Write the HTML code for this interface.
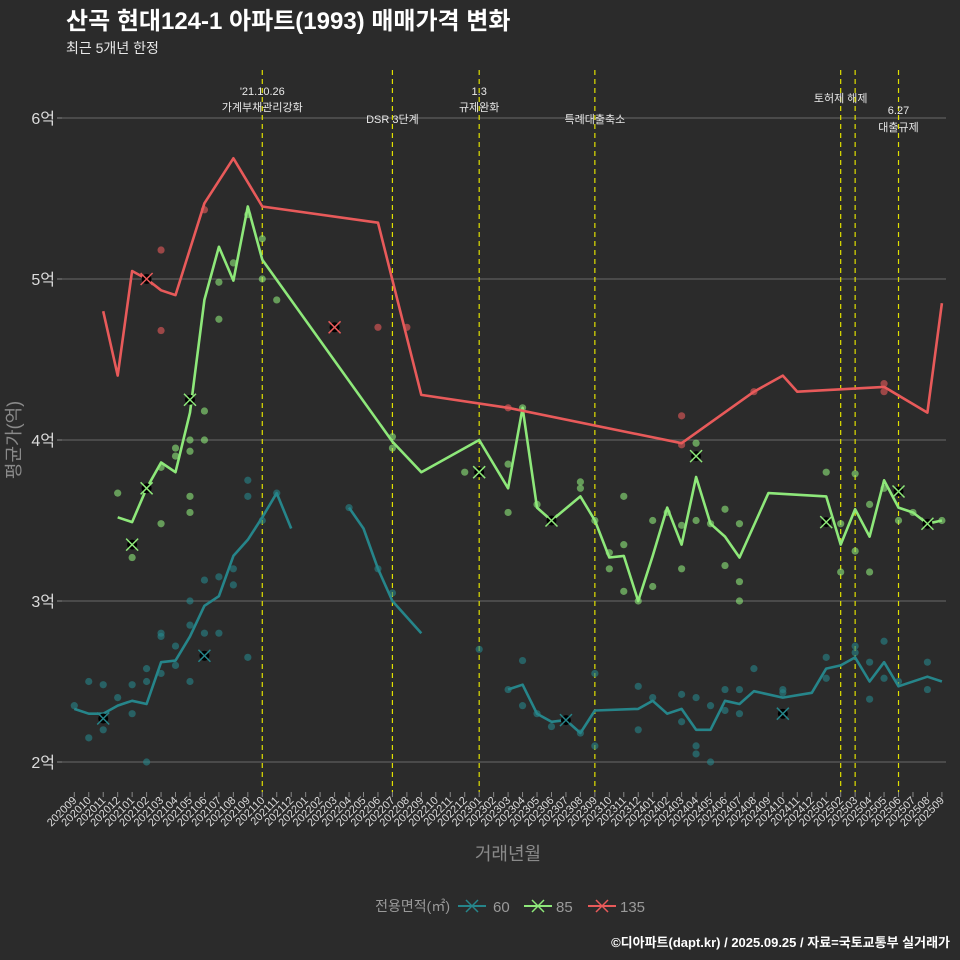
<!DOCTYPE html>
<html><head><meta charset="utf-8">
<style>
html,body{margin:0;padding:0;background:#2b2b2b;}
svg{display:block;font-family:"Liberation Sans","Noto Sans CJK KR",sans-serif;}
</style></head>
<body>
<svg id="chart" width="960" height="960" viewBox="0 0 960 960">
<rect width="960" height="960" fill="#2b2b2b"/>
<text x="66" y="29" font-size="24" font-weight="bold" fill="#ffffff">산곡 현대124-1 아파트(1993) 매매가격 변화</text>
<text x="66" y="53" font-size="14" fill="#e8e8e8">최근 5개년 한정</text>
<g id="grid"></g>
<g id="events"></g>
<g id="series"></g>
<g id="axes"></g>
<text transform="translate(20,440) rotate(-90)" text-anchor="middle" font-size="18" fill="#8a8a8a">평균가(억)</text>
<text x="508" y="860" text-anchor="middle" font-size="18" fill="#8a8a8a">거래년월</text>
<g>
<text x="450" y="911" text-anchor="end" font-size="14" fill="#9a9a9a">전용면적(㎡)</text>
<g><line x1="458" y1="906" x2="486" y2="906" stroke="#26858a" stroke-width="2"/><path d="M466,900l12,12M478,900l-12,12" stroke="#26858a" stroke-width="1.5"/><text x="493" y="912" font-size="15" fill="#9a9a9a">60</text></g>
<g><line x1="524" y1="906" x2="552" y2="906" stroke="#8ee87a" stroke-width="2"/><path d="M532,900l12,12M544,900l-12,12" stroke="#8ee87a" stroke-width="1.5"/><text x="556" y="912" font-size="15" fill="#9a9a9a">85</text></g>
<g><line x1="588" y1="906" x2="616" y2="906" stroke="#e85a5a" stroke-width="2"/><path d="M596,900l12,12M608,900l-12,12" stroke="#e85a5a" stroke-width="1.5"/><text x="620" y="912" font-size="15" fill="#9a9a9a">135</text></g>
</g>
<text x="950" y="947" text-anchor="end" font-size="13" font-weight="bold" fill="#ffffff">©디아파트(dapt.kr) / 2025.09.25 / 자료=국토교통부 실거래가</text>
</svg>
<script>
const months=[];for(let y=2020,m=9;months.length<61;){months.push(y+String(m).padStart(2,'0'));m++;if(m>12){m=1;y++;}}
const yTicks=[2,3,4,5,6];
const yTickLabels=["2억","3억","4억","5억","6억"];
const eventMonths=["202110","202207","202301","202309","202502","202503","202506"];
const eventLabels=[["'21.10.26","가계부채관리강화"],["DSR 3단계"],["1.3","규제완화"],["특례대출축소"],["토허제 해제"],[],["6.27","대출규제"]];
const eventLabelY=[[95,111],[123],[95,111],[123],[102],[],[114,131]];
// line series: [monthIndex, value]; null = break
const s60=[[0,2.33],[1,2.3],[2,2.3],[3,2.35],[4,2.38],[5,2.36],[6,2.62],[7,2.63],[8,2.78],[9,2.97],[10,3.03],[11,3.28],[12,3.38],[13,3.52],[14,3.67],[15,3.45],null,[19,3.58],[20,3.45],[21,3.2],[22,3.0],[24,2.8],null,[30,2.45],[31,2.48],[32,2.3],[33,2.25],[34,2.26],[35,2.18],[36,2.32],[39,2.33],[40,2.38],[41,2.3],[42,2.33],[43,2.2],[44,2.2],[45,2.38],[46,2.36],[47,2.44],[49,2.4],[51,2.43],[52,2.58],[53,2.6],[54,2.65],[55,2.5],[56,2.62],[57,2.47],[59,2.53],[60,2.5]];
const s85=[[3,3.52],[4,3.49],[5,3.7],[6,3.86],[7,3.8],[8,4.17],[9,4.87],[10,5.2],[11,4.99],[12,5.45],[13,5.12],[22,3.99],[24,3.8],[28,4.0],[30,3.7],[31,4.2],[32,3.58],[33,3.5],[35,3.65],[36,3.5],[37,3.27],[38,3.28],[39,3.0],[40,3.28],[41,3.58],[42,3.35],[43,3.77],[44,3.48],[45,3.4],[46,3.27],[48,3.67],[52,3.65],[53,3.35],[54,3.57],[55,3.4],[56,3.75],[57,3.58],[58,3.55],[59,3.48],[60,3.5]];
const s135=[[2,4.8],[3,4.4],[4,5.05],[5,5.0],[6,4.93],[7,4.9],[9,5.47],[11,5.75],[13,5.45],[21,5.35],[24,4.28],[30,4.2],[42,3.98],[47,4.3],[49,4.4],[50,4.3],[56,4.33],[59,4.17],[60,4.85]];
// individual trades
const p60=[[0,2.35],[1,2.5],[1,2.15],[2,2.48],[2,2.2],[3,2.4],[4,2.48],[4,2.3],[5,2.5],[5,2.0],[5,2.58],[6,2.8],[6,2.78],[6,2.55],[7,2.72],[7,2.6],[8,2.85],[8,3.0],[8,2.5],[9,3.13],[9,2.8],[10,3.15],[10,2.8],[11,3.2],[11,3.1],[12,3.75],[12,3.65],[12,2.65],[13,3.5],[14,3.67],[19,3.58],[21,3.2],[22,3.05],[28,2.7],[30,2.45],[31,2.63],[31,2.35],[32,2.3],[33,2.22],[35,2.18],[36,2.55],[36,2.1],[39,2.47],[39,2.2],[40,2.4],[42,2.42],[42,2.25],[43,2.4],[43,2.1],[43,2.05],[44,2.35],[44,2.0],[45,2.45],[45,2.32],[46,2.45],[46,2.3],[47,2.58],[49,2.45],[49,2.43],[52,2.65],[52,2.52],[54,2.72],[54,2.68],[55,2.62],[55,2.39],[56,2.75],[56,2.52],[57,2.5],[59,2.62],[59,2.45]];
const p85=[[3,3.67],[4,3.27],[6,3.83],[6,3.48],[7,3.95],[7,3.9],[8,4.0],[8,3.93],[8,3.65],[8,3.55],[9,4.18],[9,4.0],[10,4.75],[10,4.98],[11,5.1],[12,5.4],[13,5.25],[13,5.0],[14,4.87],[22,4.02],[22,3.95],[27,3.8],[30,3.85],[30,3.55],[31,4.2],[32,3.6],[33,3.5],[35,3.74],[35,3.7],[36,3.5],[37,3.3],[37,3.2],[38,3.35],[38,3.06],[38,3.65],[39,3.0],[40,3.5],[40,3.09],[41,3.55],[42,3.47],[42,3.2],[43,3.98],[43,3.5],[44,3.48],[45,3.57],[45,3.22],[46,3.48],[46,3.12],[46,3.0],[52,3.8],[53,3.48],[53,3.18],[54,3.79],[54,3.31],[55,3.6],[55,3.18],[56,3.7],[57,3.5],[58,3.55],[60,3.5]];
const p135=[[6,5.18],[6,4.68],[9,5.43],[21,4.7],[23,4.7],[30,4.2],[42,4.15],[42,3.97],[47,4.3],[56,4.35],[56,4.3]];
// single-trade X markers
const x60=[[2,2.27],[9,2.66],[34,2.26],[49,2.3]];
const x85=[[4,3.35],[5,3.7],[8,4.25],[28,3.8],[33,3.5],[43,3.9],[52,3.49],[57,3.68],[59,3.48]];
const x135=[[5,5.0],[18,4.7]];

const X0=74.3,DX=14.46,Y6=118,DY=161,XL=62,XR=946;
const xs=i=>X0+DX*i;
const ys=v=>Y6+(6-v)*DY;
const NS='http://www.w3.org/2000/svg';
function mk(tag,attrs,parent){const e=document.createElementNS(NS,tag);for(const k in attrs)e.setAttribute(k,attrs[k]);parent.appendChild(e);return e;}
const grid=document.getElementById('grid'),axes=document.getElementById('axes'),ev=document.getElementById('events'),ser=document.getElementById('series');
yTicks.forEach((v,k)=>{
  const g=mk('line',{x1:XL,x2:XR,y1:ys(v),y2:ys(v),stroke:'#5e5e5e','stroke-width':1.2},grid);
  
  
  const t=mk('line',{x1:57,x2:62,y1:ys(v),y2:ys(v),stroke:'#888','stroke-width':1},axes);
  
  
  const l=mk('text',{x:55,y:ys(v)+6,'text-anchor':'end','font-size':16,fill:'#dcdcdc'},axes);
  l.textContent=yTickLabels[k];
  
  
});
months.forEach((m,i)=>{
  const x=xs(i);
  const t=mk('line',{x1:x,x2:x,y1:792,y2:797,stroke:'#888','stroke-width':1},axes);
  
  
  const l=mk('text',{x:x+3,y:801,'text-anchor':'end','font-size':11,fill:'#dcdcdc',transform:`rotate(-45 ${x+3} 801)`},axes);
  l.textContent=m;
  
  
});
eventMonths.forEach((m,k)=>{
  const x=xs(months.indexOf(m));
  const l=mk('line',{x1:x,x2:x,y1:70,y2:792,stroke:'#e0e000','stroke-width':1.2,'stroke-dasharray':'5,4'},ev);
  
  
  eventLabels[k].forEach((s,j)=>{
    const t=mk('text',{x:x,y:eventLabelY[k][j],'text-anchor':'middle','font-size':11,fill:'#e8e8e8'},ev);
    t.textContent=s;
    
    
  });
});
function drawLine(data,color,name){
  let segs=[],cur=[];
  data.forEach(p=>{if(p===null){if(cur.length)segs.push(cur);cur=[];}else cur.push(p);});
  if(cur.length)segs.push(cur);
  segs.forEach(seg=>{
    const d=seg.map((p,j)=>(j?'L':'M')+xs(p[0]).toFixed(1)+','+ys(p[1]).toFixed(1)).join('');
    const e=mk('path',{d:d,fill:'none',stroke:color,'stroke-width':2.6,'stroke-linejoin':'round'},ser);
    
    
  });
}
function drawPts(data,color,name){
  data.forEach(p=>{
    const c=mk('circle',{cx:xs(p[0]),cy:ys(p[1]),r:3.6,fill:color,'fill-opacity':0.6},ser);
    
    
  });
}
function drawX(data,color,name){
  data.forEach(p=>{
    const x=xs(p[0]),y=ys(p[1]);
    const c=mk('circle',{cx:x,cy:y,r:5,fill:'#000'},ser);
    
    
    const e=mk('path',{d:`M${x-6},${y-6}L${x+6},${y+6}M${x+6},${y-6}L${x-6},${y+6}`,stroke:color,'stroke-width':1.5},ser);
    
    
  });
}
drawPts(p60,'#26858a','point-60');
drawPts(p85,'#8ee87a','point-85');
drawPts(p135,'#e85a5a','point-135');
drawLine(s60,'#26858a','line-60');
drawLine(s85,'#8ee87a','line-85');
drawLine(s135,'#e85a5a','line-135');
drawX(x60,'#26858a','x-marker-60');
drawX(x85,'#8ee87a','x-marker-85');
drawX(x135,'#e85a5a','x-marker-135');
</script>
</body></html>
